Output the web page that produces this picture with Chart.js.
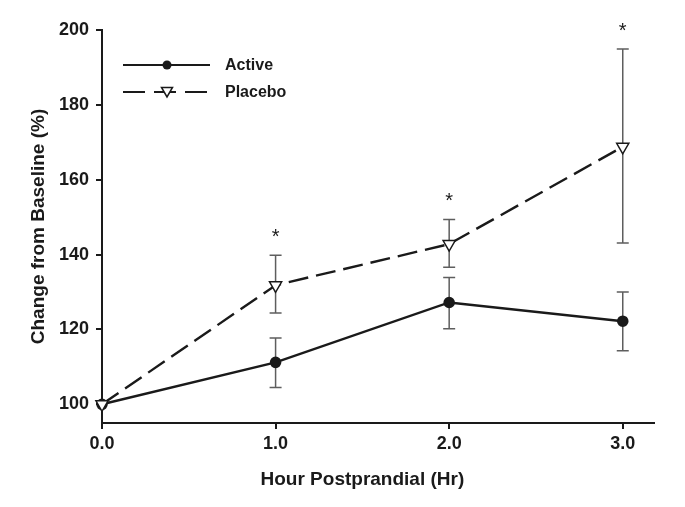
<!DOCTYPE html>
<html>
<head>
<meta charset="utf-8">
<script src="https://cdn.jsdelivr.net/npm/chart.js@4.4.1/dist/chart.umd.min.js"></script>
<style>
  html, body { margin: 0; padding: 0; background: #ffffff; }
  #wrap { width: 685px; height: 507px; }
</style>
</head>
<body>
<div id="wrap"><canvas id="c" width="685" height="507"></canvas></div>
<script>
// ---- data ----
const hours = [0, 1, 2, 3];
const activeMean = [100, 111.2, 127.2, 122.2];
const activeLow = [100, 104.5, 120.2, 114.3];
const activeHigh = [100, 117.7, 133.9, 130.0];
const placeboMean = [100, 131.8, 142.8, 168.8];
const placeboLow = [100, 124.4, 136.6, 143.1];
const placeboHigh = [100, 139.8, 149.4, 194.9];
const significant = [false, true, true, true];
const yTickValues = [100, 120, 140, 160, 180, 200];
const xTickValues = [0, 1, 2, 3];
const xTickLabels = ['0.0', '1.0', '2.0', '3.0'];
const seriesNames = ['Active', 'Placebo'];
const xTitle = 'Hour Postprandial (Hr)';
const yTitle = 'Change from Baseline (%)';

const FONT = "'Liberation Sans', Arial, Helvetica, sans-serif";
const INK = '#1a1a1a';

const toPts = (ys) => hours.map((h, i) => ({ x: h, y: ys[i] }));

const errorBars = {
  id: 'errorBars',
  beforeDatasetsDraw(chart) {
    const { ctx, scales: { x, y } } = chart;
    ctx.save();
    ctx.strokeStyle = '#5e5e5e';
    ctx.lineWidth = 1.5;
    const cap = 6;
    const draw = (lo, hi) => {
      hours.forEach((h, i) => {
        if (lo[i] === hi[i]) return;
        const px = x.getPixelForValue(h);
        const p1 = y.getPixelForValue(lo[i]);
        const p2 = y.getPixelForValue(hi[i]);
        ctx.beginPath();
        ctx.moveTo(px, p1); ctx.lineTo(px, p2);
        ctx.moveTo(px - cap, p1); ctx.lineTo(px + cap, p1);
        ctx.moveTo(px - cap, p2); ctx.lineTo(px + cap, p2);
        ctx.stroke();
      });
    };
    draw(activeLow, activeHigh);
    draw(placeboLow, placeboHigh);
    ctx.restore();
  },
  afterDraw(chart) {
    const { ctx, scales: { x, y } } = chart;
    ctx.save();
    // asterisks
    ctx.fillStyle = INK;
    ctx.font = "20px " + FONT;
    ctx.textAlign = 'center';
    ctx.textBaseline = 'alphabetic';
    hours.forEach((h, i) => {
      if (!significant[i]) return;
      const px = x.getPixelForValue(h);
      const py = y.getPixelForValue(placeboHigh[i]) - 24 + 11.5;
      ctx.fillText('*', px, py);
    });
    // x title centered on the data range
    ctx.font = "bold 19px " + FONT;
    ctx.textBaseline = 'middle';
    const cx = (x.getPixelForValue(xTickValues[0]) + x.getPixelForValue(xTickValues[xTickValues.length - 1])) / 2;
    ctx.fillText(xTitle, cx, 480);
    // legend
    const lx0 = 123, lx1 = 210, mx = 167;
    ctx.strokeStyle = INK;
    ctx.lineWidth = 2.2;
    ctx.beginPath(); ctx.moveTo(lx0, 65); ctx.lineTo(lx1, 65); ctx.stroke();
    ctx.beginPath(); ctx.arc(mx, 65, 4.5, 0, Math.PI * 2); ctx.fill();
    ctx.setLineDash([22, 9]);
    ctx.beginPath(); ctx.moveTo(lx0, 92); ctx.lineTo(lx1, 92); ctx.stroke();
    ctx.setLineDash([]);
    ctx.fillStyle = '#ffffff';
    ctx.lineWidth = 1.5;
    ctx.beginPath();
    ctx.moveTo(mx - 5.5, 87.5); ctx.lineTo(mx + 5.5, 87.5); ctx.lineTo(mx, 97); ctx.closePath();
    ctx.fill(); ctx.stroke();
    ctx.fillStyle = INK;
    ctx.font = "bold 16px " + FONT;
    ctx.textAlign = 'left';
    ctx.fillText(seriesNames[0], 225, 66);
    ctx.fillText(seriesNames[1], 225, 93);
    ctx.restore();
  }
};

new Chart(document.getElementById('c'), {
  type: 'line',
  data: {
    datasets: [
      {
        label: seriesNames[0],
        data: toPts(activeMean),
        order: 1,
        borderColor: INK,
        backgroundColor: INK,
        borderWidth: 2.4,
        pointRadius: 4.6,
        pointStyle: 'circle',
        pointBackgroundColor: INK,
        pointBorderColor: INK,
        tension: 0,
        clip: false
      },
      {
        label: seriesNames[1],
        data: toPts(placeboMean),
        order: 0,
        borderColor: INK,
        borderWidth: 2.4,
        borderDash: [20, 8],
        pointRadius: 7,
        pointStyle: 'triangle',
        rotation: 180,
        pointBackgroundColor: '#ffffff',
        pointBorderColor: INK,
        pointBorderWidth: 1.5,
        tension: 0,
        clip: false
      }
    ]
  },
  options: {
    responsive: false,
    animation: false,
    layout: { padding: { left: 0, right: 31, top: 30, bottom: 0 } },
    plugins: { legend: { display: false }, tooltip: { enabled: false } },
    scales: {
      x: {
        type: 'linear',
        min: 0,
        max: 3.18,
        afterBuildTicks: (s) => { s.ticks = xTickValues.map(v => ({ value: v })); },
        afterFit: (s) => { s.height = 84; },
        ticks: {
          color: INK,
          font: { family: FONT, size: 18, weight: 'bold' },
          padding: 4,
          maxRotation: 0,
          callback: (v, i) => xTickLabels[i]
        },
        grid: { drawOnChartArea: false, drawTicks: true, tickLength: 6, color: INK, lineWidth: 2 },
        border: { display: true, color: INK, width: 2 },
        title: { display: false }
      },
      y: {
        type: 'linear',
        min: 95,
        max: 200,
        afterBuildTicks: (s) => { s.ticks = yTickValues.map(v => ({ value: v })); },
        afterFit: (s) => { s.width = 102; },
        ticks: {
          color: INK,
          font: { family: FONT, size: 18, weight: 'bold' },
          padding: 7,
          callback: (v) => String(v)
        },
        grid: { drawOnChartArea: false, drawTicks: true, tickLength: 6, color: INK, lineWidth: 2 },
        border: { display: true, color: INK, width: 2 },
        title: {
          display: true,
          text: yTitle,
          color: INK,
          font: { family: FONT, size: 19, weight: 'bold' },
          padding: { top: 27, bottom: 0 }
        }
      }
    }
  },
  plugins: [errorBars]
});
</script>
</body>
</html>
